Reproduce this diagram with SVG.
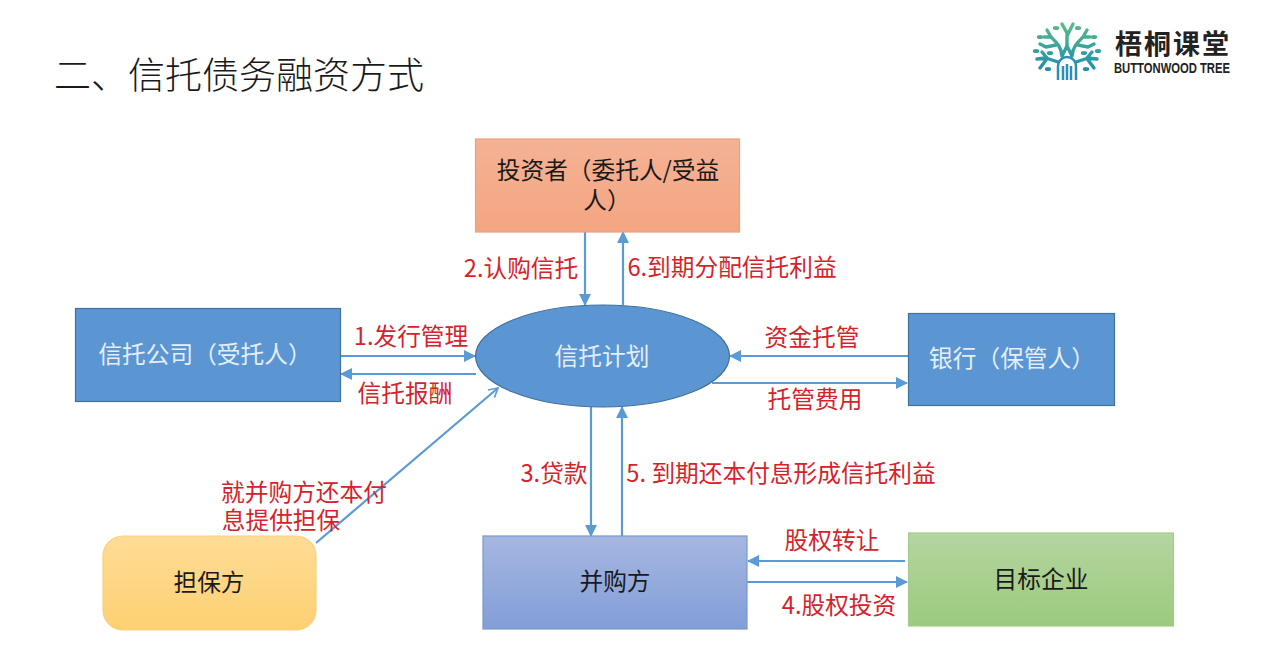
<svg xmlns="http://www.w3.org/2000/svg" width="1261" height="646" viewBox="0 0 1261 646">
<style>
text{font-family:"Noto Sans CJK SC","Noto Sans",sans-serif;text-anchor:middle}
.t{font-size:23.7px;fill:#1a1a1a}
.w{font-size:23.7px;fill:#e4eef8}
.r{font-size:23.7px;fill:#d4232b}
.c{fill:none;stroke:#5b9bd5;stroke-width:2.2}
.b{fill:#5b96d3;stroke:#41719c;stroke-width:1.2}
</style>
<defs>
<marker id="a" viewBox="0 0 12 12" refX="11" refY="6" markerWidth="12" markerHeight="12" markerUnits="userSpaceOnUse" orient="auto"><path d="M0 0L12 6L0 12Z" fill="#5b9bd5"/></marker>
<marker id="o" viewBox="0 0 12 12" refX="11" refY="6" markerWidth="12" markerHeight="12" markerUnits="userSpaceOnUse" orient="auto"><path d="M2 1L11 6L2 11" fill="none" stroke="#5b9bd5" stroke-width="1.6"/></marker>
<linearGradient id="go" x1="0" y1="0" x2="0" y2="1"><stop offset="0" stop-color="#f4b294"/><stop offset="1" stop-color="#f4a582"/></linearGradient>
<linearGradient id="gy" x1="0" y1="0" x2="0" y2="1"><stop offset="0" stop-color="#fedc96"/><stop offset="1" stop-color="#fdd073"/></linearGradient>
<linearGradient id="gb" x1="0" y1="0" x2="0" y2="1"><stop offset="0" stop-color="#a6b7e0"/><stop offset="1" stop-color="#829ed8"/></linearGradient>
<linearGradient id="gg" x1="0" y1="0" x2="0" y2="1"><stop offset="0" stop-color="#b5d5a0"/><stop offset="1" stop-color="#9bca7e"/></linearGradient>
<linearGradient id="gl" gradientUnits="userSpaceOnUse" x1="0" y1="20" x2="0" y2="80"><stop offset="0" stop-color="#62bd84"/><stop offset="0.55" stop-color="#2f9fa0"/><stop offset="1" stop-color="#1f82b8"/></linearGradient>
</defs>
<rect width="1261" height="646" fill="#fff"/>
<text id="title" x="239" y="89" style="font-size:37px;fill:#1a1a1a;font-weight:300">二、信托债务融资方式</text>
<g id="logo">
<g fill="none" stroke="url(#gl)" stroke-width="3.4" stroke-linecap="round" stroke-linejoin="round">
<path d="M1062 56C1061 46 1056 42 1051 37L1047 30M1051 37L1044 37M1056 45L1046 47L1040 44M1072 56C1073 46 1078 42 1083 37L1087 30M1083 37L1090 37M1078 45L1088 47L1094 44M1067 46L1067 33L1062 24M1067 36L1073 24M1058 62L1046 58L1037 59M1047 58L1042 52M1046 60L1040 68M1076 62L1088 58L1097 59M1087 58L1092 52M1088 60L1094 68M1067 46L1062 56M1067 46L1072 56"/>
</g>
<g fill="url(#gl)">
<ellipse cx="1056" cy="28" rx="3.2" ry="2"/><ellipse cx="1078" cy="28" rx="3.2" ry="2"/><ellipse cx="1040" cy="37" rx="3.2" ry="2"/><ellipse cx="1094" cy="37" rx="3.2" ry="2"/><ellipse cx="1050" cy="53" rx="3.2" ry="2"/><ellipse cx="1084" cy="53" rx="3.2" ry="2"/><ellipse cx="1036" cy="51" rx="3.2" ry="2"/><ellipse cx="1098" cy="51" rx="3.2" ry="2"/><ellipse cx="1048" cy="69" rx="3.2" ry="2"/><ellipse cx="1086" cy="69" rx="3.2" ry="2"/>
</g>
<path d="M1058 80V66a9 9 0 0 1 18 0V80" fill="none" stroke="#2a8fb8" stroke-width="2.5"/>
<path d="M1063 80V66M1067 80V64M1071 80V66" stroke="#2a8fb8" stroke-width="2.5"/>
<text x="1173" y="54" style="font-size:27px;font-weight:700;fill:#222;letter-spacing:2px">梧桐课堂</text>
<text x="1172" y="73" style="font-size:14px;font-weight:700;fill:#222;font-family:'Liberation Sans Narrow','Liberation Sans',sans-serif" textLength="116" lengthAdjust="spacingAndGlyphs">BUTTONWOOD TREE</text>
</g>
<g id="connectors">
<line class="c" x1="340" y1="356" x2="475" y2="356" marker-end="url(#a)"/>
<line class="c" x1="476" y1="374" x2="341" y2="374" marker-end="url(#a)"/>
<line class="c" x1="585" y1="232" x2="585" y2="305" marker-end="url(#a)"/>
<line class="c" x1="623" y1="305" x2="623" y2="232" marker-end="url(#a)"/>
<line class="c" x1="908" y1="356" x2="730" y2="356" marker-end="url(#a)"/>
<line class="c" x1="712" y1="383" x2="907" y2="383" marker-end="url(#a)"/>
<line class="c" x1="591" y1="407" x2="591" y2="536" marker-end="url(#a)"/>
<line class="c" x1="622" y1="536" x2="622" y2="407" marker-end="url(#a)"/>
<line class="c" x1="905" y1="561" x2="748" y2="561" marker-end="url(#a)"/>
<line class="c" x1="747" y1="582" x2="907" y2="582" marker-end="url(#a)"/>
<line class="c" x1="316" y1="543" x2="498" y2="388" marker-end="url(#o)"/>
</g>
<g id="n-investor"><rect x="475.500" y="139" width="264" height="93" fill="url(#go)" stroke="#e8a27f" stroke-width="1.2"/><text class="t" x="608" y="179">投资者（委托人/受益</text><text class="t" x="607" y="209">人）</text></g>
<g id="n-trustco"><rect class="b" x="75.500" y="308.500" width="265" height="93"/><text class="w" x="205" y="363">信托公司（受托人）</text></g>
<g id="n-plan"><ellipse cx="602.500" cy="356" rx="127" ry="51" class="b"/><text class="w" x="602" y="365">信托计划</text></g>
<g id="n-bank"><rect class="b" x="908.500" y="313.500" width="206" height="92"/><text class="w" x="1012" y="367">银行（保管人）</text></g>
<g id="n-guarantor"><rect x="103" y="536" width="213" height="94" rx="20" fill="url(#gy)" stroke="#fbcf7a" stroke-width="1.2"/><text class="t" x="209" y="591">担保方</text></g>
<g id="n-buyer"><rect x="483" y="536" width="264" height="93" fill="url(#gb)" stroke="#7a97cf" stroke-width="1.2"/><text class="t" x="615" y="590">并购方</text></g>
<g id="n-target"><rect x="908.500" y="533" width="265" height="93" fill="url(#gg)" stroke="#a5cc8c" stroke-width="1.2"/><text class="t" x="1041" y="588">目标企业</text></g>
<g id="labels">
<text class="r" x="521" y="277">2.认购信托</text>
<text class="r" x="732" y="276">6.到期分配信托利益</text>
<text class="r" x="411" y="345">1.发行管理</text>
<text class="r" x="405" y="402">信托报酬</text>
<text class="r" x="812" y="346">资金托管</text>
<text class="r" x="815" y="408">托管费用</text>
<text class="r" x="554" y="482">3.贷款</text>
<text class="r" x="781" y="482">5. 到期还本付息形成信托利益</text>
<text class="r" x="304" y="501">就并购方还本付</text>
<text class="r" x="281" y="529">息提供担保</text>
<text class="r" x="832" y="549">股权转让</text>
<text class="r" x="839" y="614">4.股权投资</text>
</g>
</svg>
